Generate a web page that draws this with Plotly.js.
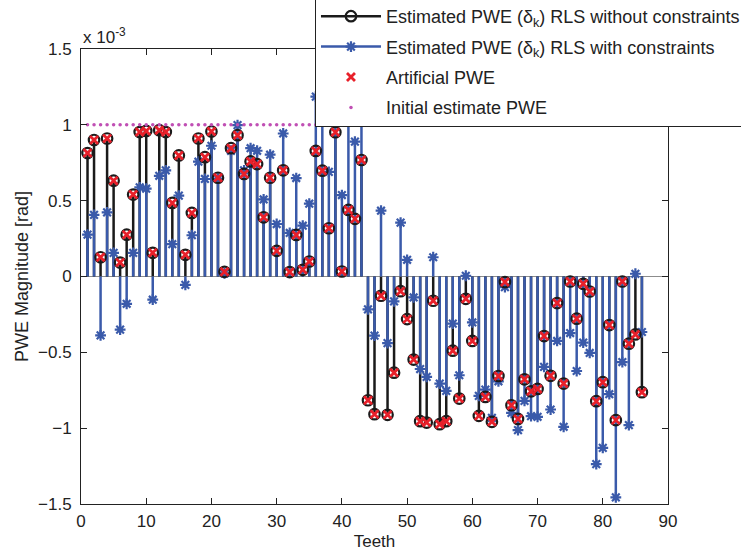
<!DOCTYPE html>
<html>
<head>
<meta charset="utf-8">
<script src="https://cdn.plot.ly/plotly-3.0.1.min.js"></script>
<style>html,body{margin:0;padding:0;background:#fff;}#chart{width:741px;height:551px;}</style>
</head>
<body>
<div id="chart"></div>
<script>
// Values in units of 1e-3 rad
var teeth = [];
for (var i = 1; i <= 86; i++) teeth.push(i);

var estWithoutConstraints = [
 0.814, 0.900, 0.127, 0.910, 0.632, 0.092, 0.276, 0.540, 0.952, 0.960,
 0.156, 0.965, 0.952, 0.485, 0.798, 0.143, 0.419, 0.910, 0.787, 0.956,
 0.651, 0.031, 0.846, 0.932, 0.676, 0.759, 0.741, 0.390, 0.651, 0.169,
 0.700, 0.029, 0.274, 0.044, 0.099, 0.828, 0.698, 0.318, 0.951, 0.033,
 0.439, 0.380, 0.768, -0.816, -0.908, -0.127, -0.912, -0.634, -0.097, -0.281,
 -0.548, -0.954, -0.963, -0.160, -0.974, -0.954, -0.489, -0.805, -0.147, -0.425,
 -0.919, -0.794, -0.958, -0.656, -0.037, -0.849, -0.939, -0.678, -0.757, -0.741,
 -0.393, -0.655, -0.175, -0.706, -0.033, -0.278, -0.048, -0.099, -0.822, -0.697,
 -0.320, -0.947, -0.033, -0.443, -0.382, -0.763
];

var estWithConstraints = [
 0.276, 0.406, -0.388, 0.423, 0.156, -0.350, -0.180, 0.156, 0.588, 0.579,
 -0.153, 0.664, 0.700, 0.213, 0.533, -0.055, 0.272, 0.757, 0.643, 0.862,
 0.645, 0.020, 0.829, 0.998, 0.700, 0.846, 0.829, 0.508, 0.803, 0.346,
 0.943, 0.287, 0.649, 0.335, 0.480, 1.186, 1.120, 0.690, 1.080, 0.537,
 1.030, 0.889, 1.100, -0.217, -0.390, 0.434, -0.439, -0.164, 0.355, 0.110,
 -0.138, -0.610, -0.662, 0.127, -0.706, -0.754, -0.311, -0.651, 0.005, -0.303,
 -0.787, -0.746, -0.932, -0.691, -0.070, -0.899, -1.013, -0.820, -0.921, -0.925,
 -0.596, -0.877, -0.425, -0.991, -0.373, -0.623, -0.436, -0.504, -1.237, -1.130,
 -0.776, -1.456, -0.564, -0.980, 0.018, -0.366
];

var artificialPWE = [
 0.814, 0.900, 0.127, 0.910, 0.632, 0.092, 0.276, 0.540, 0.952, 0.960,
 0.156, 0.965, 0.952, 0.485, 0.798, 0.143, 0.419, 0.910, 0.787, 0.956,
 0.651, 0.031, 0.846, 0.932, 0.676, 0.759, 0.741, 0.390, 0.651, 0.169,
 0.700, 0.029, 0.274, 0.044, 0.099, 0.828, 0.698, 0.318, 0.951, 0.033,
 0.439, 0.380, 0.768, -0.816, -0.908, -0.127, -0.912, -0.634, -0.097, -0.281,
 -0.548, -0.954, -0.963, -0.160, -0.974, -0.954, -0.489, -0.805, -0.147, -0.425,
 -0.919, -0.794, -0.958, -0.656, -0.037, -0.849, -0.939, -0.678, -0.757, -0.741,
 -0.393, -0.655, -0.175, -0.706, -0.033, -0.278, -0.048, -0.099, -0.822, -0.697,
 -0.320, -0.947, -0.033, -0.443, -0.382, -0.763
];

var initialEstimate = teeth.map(function(){ return 1.0; });

var xTicks = [0,10,20,30,40,50,60,70,80,90];
var yTicks = [-1.5,-1,-0.5,0,0.5,1,1.5];
var yTickText = ['\u22121.5','\u22121','\u22120.5','0','0.5','1','1.5'];

var legendNames = [
 'Estimated PWE (\u03b4<sub>k</sub>) RLS without constraints',
 'Estimated PWE (\u03b4<sub>k</sub>) RLS with constraints',
 'Artificial PWE',
 'Initial estimate PWE'
];

var BLACK = '#1a1a1a', BLUE = '#3a5aaa', RED = '#e8202a', MAG = '#c04fb4';

function stems(xs, ys) {
  var sx = [], sy = [];
  for (var i = 0; i < xs.length; i++) { sx.push(xs[i], xs[i], null); sy.push(0, ys[i], null); }
  return {x: sx, y: sy};
}
var s1 = stems(teeth, estWithoutConstraints);
var s2 = stems(teeth, estWithConstraints);

var mBlue = {symbol: 'asterisk-open', size: 9, color: BLUE, line: {color: BLUE, width: 2.2}};
var mBlack = {symbol: 'circle-open', size: 10.5, color: BLACK, line: {color: BLACK, width: 2.2}};
var mRed = {symbol: 'x-thin-open', size: 8, color: RED, line: {color: RED, width: 2.8}};
var mMag = {symbol: 'circle', size: 3.5, color: MAG};

var traces = [
  {x: s1.x, y: s1.y, mode: 'lines', line: {color: BLACK, width: 2.5}, showlegend: false, hoverinfo: 'skip'},
  {x: s2.x, y: s2.y, mode: 'lines', line: {color: BLUE, width: 2.5}, showlegend: false, hoverinfo: 'skip'},
  {x: teeth, y: estWithConstraints, mode: 'markers', showlegend: false, marker: mBlue},
  {x: teeth, y: estWithoutConstraints, mode: 'markers', showlegend: false, marker: mBlack},
  {x: teeth, y: artificialPWE, mode: 'markers', showlegend: false, marker: mRed},
  {x: teeth, y: initialEstimate, mode: 'markers', showlegend: false, marker: mMag},
  // legend entries
  {x: [null], y: [null], mode: 'lines+markers', name: legendNames[0], legendgroup: 'a',
   line: {color: BLACK, width: 2.5}, marker: mBlack},
  {x: [null], y: [null], mode: 'lines+markers', name: legendNames[1], legendgroup: 'b',
   line: {color: BLUE, width: 2.5}, marker: mBlue},
  {x: [null], y: [null], mode: 'markers', name: legendNames[2], legendgroup: 'c', marker: mRed},
  {x: [null], y: [null], mode: 'markers', name: legendNames[3], legendgroup: 'd', marker: mMag}
];

var FONT = 'Liberation Sans, Arial, Helvetica, sans-serif';
var layout = {
  width: 741, height: 551,
  margin: {l: 81, r: 73, t: 49, b: 47, autoexpand: false},
  paper_bgcolor: '#fff', plot_bgcolor: '#fff',
  font: {family: FONT, size: 17, color: '#222'},
  showlegend: true,
  xaxis: {
    range: [0, 90], tickvals: xTicks, ticks: 'inside', ticklen: 6, tickcolor: '#222',
    showline: true, linecolor: '#222', linewidth: 1, mirror: 'ticks',
    showgrid: false, zeroline: false, ticklabelstandoff: 2,
    tickfont: {size: 17, color: '#222'},
    title: {text: 'Teeth', font: {size: 17, color: '#222'}, standoff: 4}
  },
  yaxis: {
    range: [-1.5, 1.5], tickvals: yTicks, ticktext: yTickText, ticks: 'inside', ticklen: 6, tickcolor: '#222',
    showline: true, linecolor: '#222', linewidth: 1, mirror: 'ticks',
    showgrid: false, zeroline: true, zerolinecolor: '#8c8c8c', zerolinewidth: 1,
    ticklabelstandoff: 5,
    tickfont: {size: 17, color: '#222'},
    title: {text: 'PWE Magnitude [rad]', font: {size: 18, color: '#222'}, standoff: 4}
  },
  legend: {
    x: 0.3986, xanchor: 'left', y: 0.8286, yanchor: 'bottom',
    bgcolor: '#fff', bordercolor: '#222', borderwidth: 1,
    font: {family: FONT, size: 18, color: '#222'},
    tracegroupgap: 4, itemwidth: 60, traceorder: 'grouped'
  },
  annotations: [{
    xref: 'paper', yref: 'paper', x: 0, y: 1.0, xanchor: 'left', yanchor: 'bottom',
    text: 'x 10<sup>-3</sup>', showarrow: false, font: {family: FONT, size: 17, color: '#222'}
  }]
};

Plotly.newPlot('chart', traces, layout, {displayModeBar: false, staticPlot: true});
</script>
</body>
</html>
